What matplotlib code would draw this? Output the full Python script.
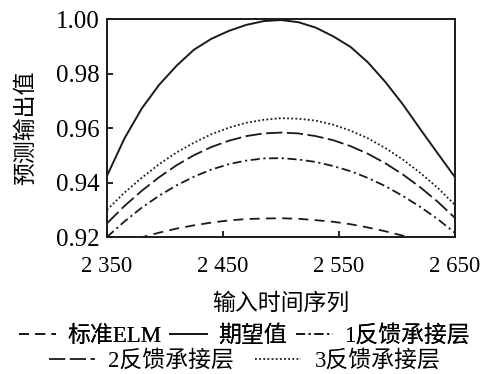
import matplotlib
matplotlib.use("Agg")
import matplotlib.pyplot as plt

plt.rcParams['font.family'] = ['Liberation Serif', 'Noto Sans CJK SC']

# input time sequence
x = [2350, 2365, 2380, 2395, 2410, 2425, 2440, 2455, 2470, 2485, 2500,
     2515, 2530, 2545, 2560, 2575, 2590, 2605, 2620, 2635, 2650]

# values
elm = [0.9158, 0.9180, 0.9199, 0.9216, 0.9231, 0.9243, 0.9253, 0.9261, 0.9266, 0.9268, 0.9269,
       0.9267, 0.9262, 0.9256, 0.9247, 0.9235, 0.9221, 0.9205, 0.9186, 0.9165, 0.9142]
expected = [0.9425, 0.9562, 0.9673, 0.9760, 0.9830, 0.9889, 0.9929, 0.9958, 0.9980, 0.9994, 0.9998,
            0.9990, 0.9970, 0.9938, 0.9899, 0.9842, 0.9770, 0.9688, 0.9597, 0.9508, 0.9420]
fb1 = [0.9200, 0.9257, 0.9308, 0.9352, 0.9390, 0.9422, 0.9448, 0.9468, 0.9481, 0.9489, 0.9490,
       0.9485, 0.9476, 0.9461, 0.9442, 0.9417, 0.9387, 0.9351, 0.9311, 0.9266, 0.9215]
fb2 = [0.9250, 0.9314, 0.9370, 0.9420, 0.9464, 0.9501, 0.9531, 0.9554, 0.9571, 0.9581, 0.9584,
       0.9581, 0.9571, 0.9556, 0.9534, 0.9506, 0.9471, 0.9430, 0.9383, 0.9330, 0.9270]
fb3 = [0.9300, 0.9363, 0.9418, 0.9468, 0.9511, 0.9547, 0.9578, 0.9602, 0.9620, 0.9631, 0.9637,
       0.9635, 0.9628, 0.9613, 0.9591, 0.9563, 0.9527, 0.9485, 0.9436, 0.9381, 0.9318]

xticks = [2350, 2450, 2550, 2650]
xtick_labels = ['2 350', '2 450', '2 550', '2 650']
yticks = [0.92, 0.94, 0.96, 0.98, 1.00]
ytick_labels = ['0.92', '0.94', '0.96', '0.98', '1.00']

fs = 16.5
lw = 1.3
ink = '#1a1a1a'

fig = plt.figure(figsize=(4.89, 3.74), dpi=100)
ax = fig.add_axes([0.2188, 0.3663, 0.7117, 0.5816])

l_elm, = ax.plot(x, elm, color=ink, lw=lw, dashes=(5.5, 3.5), label='标准ELM')
l_exp, = ax.plot(x, expected, color=ink, lw=1.4, label='期望值')
l_fb1, = ax.plot(x, fb1, color=ink, lw=lw, dashes=(5, 2, 1.2, 2), label='1反馈承接层')
l_fb2, = ax.plot(x, fb2, color=ink, lw=lw, dashes=(9, 2.5), label='2反馈承接层')
l_fb3, = ax.plot(x, fb3, color=ink, lw=lw, dashes=(1.0, 1.3), label='3反馈承接层')

ax.set_xlim(2350, 2650)
ax.set_ylim(0.92, 1.00)
ax.set_xticks(xticks)
ax.set_xticklabels(xtick_labels)
ax.set_yticks(yticks)
ax.set_yticklabels(ytick_labels)
ax.tick_params(direction='in', length=4, width=1.2, top=False, right=False)
ax.tick_params(axis='x', labelsize=fs, pad=14)
ax.tick_params(axis='y', labelsize=18, pad=5)
for s in ax.spines.values():
    s.set_linewidth(1.4)
    s.set_color(ink)

ax.set_xlabel('输入时间序列', fontsize=fs, labelpad=11)
ax.set_ylabel('预测输出值', fontsize=fs, labelpad=14)

# legend: two rows, centred
leg1 = fig.legend(handles=[l_elm, l_exp, l_fb1], loc='center', bbox_to_anchor=(0.5, 1 - 336 / 374),
                  ncol=3, frameon=False, fontsize=fs, handlelength=1.6, handletextpad=0.5,
                  columnspacing=0.4, borderpad=0, borderaxespad=0)
fig.add_artist(leg1)
fig.legend(handles=[l_fb2, l_fb3], loc='center', bbox_to_anchor=(0.5, 1 - 361 / 374),
           ncol=2, frameon=False, fontsize=fs, handlelength=2.0, handletextpad=0.6,
           columnspacing=0.9, borderpad=0, borderaxespad=0)

fig.savefig('out.png', dpi=100, facecolor='white')
